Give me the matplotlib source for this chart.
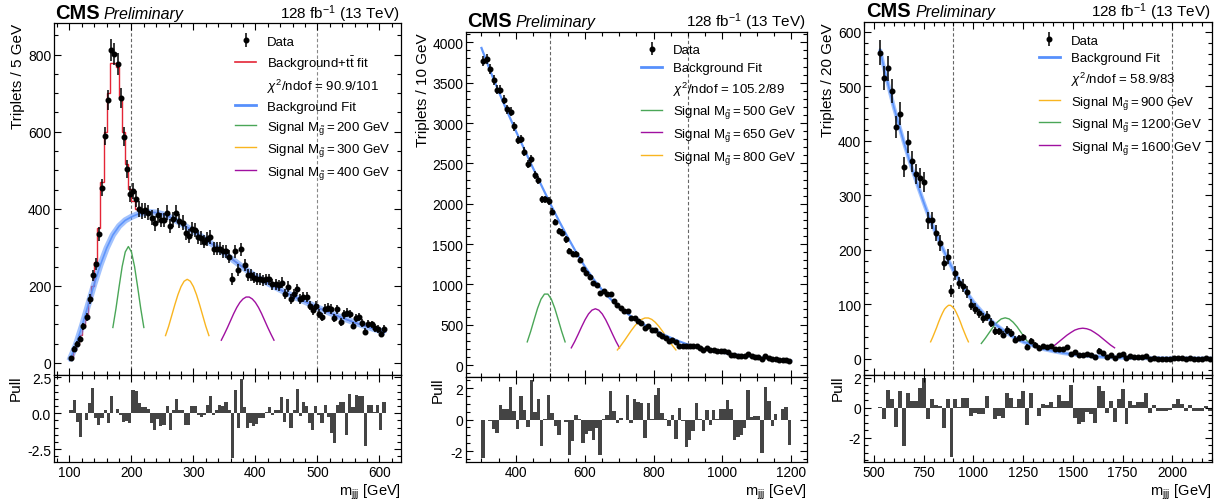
import numpy as np
import matplotlib
matplotlib.use("Agg")
import matplotlib.pyplot as plt
from matplotlib.lines import Line2D
from matplotlib.ticker import MultipleLocator, FormatStrFormatter

plt.rcParams['font.family'] = ['Liberation Sans', 'DejaVu Sans']
plt.rcParams['mathtext.fontset'] = 'custom'
plt.rcParams['mathtext.rm'] = 'Liberation Sans'
plt.rcParams['mathtext.it'] = 'Liberation Sans:italic'
plt.rcParams['mathtext.bf'] = 'Liberation Sans:bold'
plt.rcParams['axes.unicode_minus'] = False

# ---------------- data : panel 1 (5 GeV bins) ----------------
p1_centers = np.arange(102.5, 610, 5)
p1_data = [13, 37, 49, 62, 95, 119, 165, 227, 257, 334, 455, 589, 683, 812, 801, 776, 687, 587, 503, 438,
           446, 425, 399, 394, 396,
           390, 377, 362, 383, 371, 371, 390, 355, 373, 390, 368, 364, 338, 329, 348, 345, 327, 325, 315, 322,
           327, 296, 296, 296, 290, 290, 276, 218, 290, 241, 295, 254, 228, 228, 221, 218, 218, 214, 217, 217,
           204, 204, 201, 208, 179, 198, 166, 178, 192, 166, 171, 171, 149, 137, 149, 128, 119, 140, 143, 140,
           117, 139, 106, 126, 130, 127, 97, 117, 119, 104, 81, 102, 100, 91, 88, 75, 88]
p1_pull = [0.2, 0.9, -0.6, -1.65, 0.05, -0.45, 0.7, 1.75, -0.35, -0.8,
           -0.3, 0.2, -0.65, 1.2, 0.05, 0.3, -0.1, -0.6, -0.55, -0.65,
           1.6, 1.55, 0.7, 0.45, 0.45, 0.3, -0.7, -1.2, -0.4, -0.9,
           -0.8, 0.5, -1.15, 0.2, 1.0, 0.25, 0.25, -0.85, -0.85, 0.5,
           0.5, -0.1, -0.25, -0.15, 0.55, 1.2, -0.1, 0.2, 0.55, 0.5,
           0.75, 0.2, -3.1, 1.65, -1.0, 2.4, 0.4, -1.0, -0.7, -0.9,
           -0.75, -0.35, -0.3, 0.1, 0.4, -0.15, 0.2, 0.25, 1.1, -0.6,
           1.0, -1.0, 0.25, 1.7, -0.2, 0.75, 0.5, -0.65, -1.2, 0.5,
           -0.1, -0.65, 0.55, -0.25, -1.4, -2.05, 0.55, 0.75, 0.8, -1.5,
           1.35, 0.4, 1.25, 1.2, 1.2, -2.25, 0.6, 0.6, 0.1, 0.55,
           -1.15, 0.75]
p1_fit_x = [100, 110, 120, 130, 140, 150, 160, 170, 180, 190, 200, 210, 220, 230, 240, 250, 260, 280, 300,
            320, 340, 360, 380, 400, 420, 440, 460, 480, 500, 520, 540, 560, 580, 600, 610]
p1_fit_y = [6, 45, 95, 150, 205, 255, 298, 332, 355, 370, 379, 386, 389, 391, 390, 386, 380, 362, 342,
            320, 297, 272, 248, 225, 207, 190, 174, 159, 144, 130, 117, 105, 94, 84, 80]
p1_ttbar_edges = np.arange(100, 235, 5)
p1_ttbar_fit = [14, 33, 50, 72, 95, 125, 163, 200, 262, 350, 470, 600, 700, 778, 778, 768, 688, 600, 515,
                452, 420, 400, 393, 388, 389, 390]
p1_sig200_x = np.arange(170, 225, 5)
p1_sig200 = [92, 141, 197, 250, 288, 302, 288, 250, 197, 141, 92]
p1_sig300_x = np.arange(255, 330, 5)
p1_sig300 = [71, 95, 123, 151, 177, 198, 212, 217, 212, 198, 177, 151, 123, 95, 71]
p1_sig400_x = np.arange(345, 435, 5)
p1_sig400 = [59, 75, 92, 110, 128, 144, 157, 166, 171, 171, 166, 157, 144, 128, 110, 92, 75, 59]

# ---------------- data : panel 2 (10 GeV bins) ----------------
p2_centers = np.arange(305, 1200, 10)
p2_data = [3764, 3793, 3669, 3537, 3413, 3413, 3289, 3173, 3140, 2958, 2788, 2800, 2647, 2490, 2552, 2358,
           2292, 2056, 2056, 2035, 1899, 1775, 1663, 1642, 1559, 1415, 1373, 1373, 1299, 1187, 1146, 1096,
           1013, 993, 889, 918, 877, 877, 794, 740, 711, 670, 670, 587, 587, 546, 525, 455, 484, 434,
           434, 389, 360, 339, 298, 310, 290, 244, 236, 236, 236, 236, 244, 207, 194, 207, 186, 186, 174, 174,
           174, 161, 132, 124, 120, 120, 120, 141, 112, 103, 99, 79, 112, 91, 79, 79, 70, 70, 70, 58]
p2_pull = [-2.45, -0.05, -0.1, -0.6, -0.85, 0.95, 0.7, 0.65, 2.05, 0.55,
           -0.6, 1.5, 0.6, -0.5, 2.5, 0.5, 1.3, -1.65, 0.05, 1.6,
           0.45, -0.4, -0.95, 0.0, -0.15, -2.25, -1.35, 0.3, 0.05, -1.5,
           -0.9, -0.75, -1.3, -0.55, -2.25, 0.05, 0.3, 1.8, 0.55, -0.2,
           0.1, -0.05, 1.6, -0.2, 1.3, 1.1, 1.05, -1.15, 1.05, 0.05,
           1.55, 2.0, 0.4, 0.05, -0.4, 0.3, -1.25, 0.75, -0.1, -1.75,
           -1.3, -0.7, 1.05, 0.05, -0.75, 0.6, -0.35, 0.6, 0.05, 0.65,
           0.7, 1.25, 0.65, -1.3, -1.1, -1.0, -0.55, 1.9, 0.2, 0.25,
           0.25, -2.1, 2.05, 1.2, -0.4, 0.35, -0.05, 0.7, 0.8, -1.6]
p2_fit_x = [300, 325, 350, 375, 400, 425, 450, 475, 500, 525, 550, 575, 600, 625, 650, 675, 700, 725, 750,
            775, 800, 825, 850, 875, 900, 925, 950, 975, 1000, 1025, 1050, 1075, 1100, 1125, 1150, 1175, 1200]
p2_fit_y = [3930, 3650, 3390, 3140, 2900, 2670, 2440, 2220, 2000, 1790, 1590, 1400, 1225, 1070, 935, 820,
            720, 635, 560, 497, 440, 388, 340, 295, 255, 223, 195, 173, 155, 139, 125, 112, 100, 89, 78, 66, 56]
p2_sig500_x = np.arange(433, 550, 10)
p2_sig500 = [289, 419, 564, 705, 818, 881, 881, 818, 705, 564, 419, 289]
p2_sig650_x = np.arange(561, 710, 10)
p2_sig650 = [215, 294, 383, 476, 563, 635, 682, 699, 682, 635, 563, 476, 383, 294, 215]
p2_sig800_x = np.arange(695, 870, 10)
p2_sig800 = [189, 243, 302, 365, 427, 484, 532, 567, 585, 585, 567, 532, 484, 427, 365, 302, 243, 189]

# ---------------- data : panel 3 (20 GeV bins) ----------------
p3_centers = np.arange(530, 2200, 20)
p3_data = [562, 515, 533, 492, 425, 450, 352, 398, 362, 339, 332, 324, 254, 254, 231, 213, 176, 187, 125, 157,
           139, 134, 122, 99, 92, 83, 75, 79, 66, 51, 50, 44, 52, 47, 35, 38, 39, 22, 33, 25,
           20, 23, 21, 23, 17, 17, 17, 21, 9, 12, 6, 6, 9, 6, 4, 15, 10, 4, 6, 2,
           6, 9, 1, 5, 3, 3, 3, 5, 0, 1, 0, 0, 0, 0, 1, 2, 1, 0, 1, 0, 0, 0, 1, 0]
p3_pull = [0.05, -0.75, 1.2, 0.6, -1.25, 1.1, -2.55, 0.95, 0.45, 0.45,
           1.3, 1.95, -0.75, 0.55, 0.15, 0.1, -1.35, 0.6, -3.3, 0.55,
           0.05, 0.65, 0.65, -0.55, -0.35, -0.4, -0.4, 0.8, 0.0, -0.75,
           -0.55, -0.7, 0.95, 0.65, 0.05, 0.6, 1.1, -1.15, 0.95, 0.0,
           -0.55, 0.25, 0.2, 0.4, 0.05, 0.85, 0.45, 0.45, 1.5, -0.7,
           -1.1, -0.95, -0.3, -0.45, -1.0, 1.45, 1.1, -0.35, 0.45, -0.95,
           0.6, 1.25, -1.1, 0.45, 0.2, 0.35, 0.4, 1.0, -0.35, 0.15,
           -0.2, -0.2, -0.2, -0.15, 0.25, 0.6, 0.25, -0.2, 0.2, -0.2,
           -0.2, -0.2, 0.1, -0.25]
p3_fit_x = [530, 550, 575, 600, 625, 650, 675, 700, 725, 750, 775, 800, 825, 850, 875, 900, 925, 950, 975,
            1000, 1050, 1100, 1150, 1200, 1250, 1300, 1350, 1400, 1450, 1500, 1600, 1700, 1800, 1900, 2000,
            2100, 2200]
p3_fit_y = [568, 535, 498, 462, 430, 398, 368, 340, 313, 287, 262, 240, 219, 199, 180, 162, 146, 131, 117,
            104, 83, 66, 52, 40, 31, 24, 18, 14, 10.5, 8, 4.5, 2.6, 1.5, 0.9, 0.5, 0.3, 0.2]
p3_sig900_x = np.arange(785, 980, 10)
p3_sig900 = [31, 39, 48, 57, 67, 76, 84, 91, 95, 98, 98, 95, 91, 84, 76, 67, 57, 48, 39, 31]
p3_sig1200_x = np.arange(1040, 1290, 20)
p3_sig1200 = [28, 37.5, 48, 58.5, 67, 73, 75, 73, 67, 58.5, 48, 37.5, 28]
p3_sig1600_x = np.arange(1390, 1720, 20)
p3_sig1600 = [20, 25, 31, 37, 43, 48, 52.5, 55, 56, 55, 52.5, 48, 43, 37, 31, 25, 20]

# ---------------- styling ----------------
BLUE = '#5790fc'
RED = '#e42536'
GREEN = '#4aa657'
YELLOW = '#f9b520'
PURPLE = '#a010a0'
PULLC = '#444444'

W, H = 1225, 502
PB = 463  # bottom of pull panels (px)
fig = plt.figure(figsize=(W / 100, H / 100), dpi=100)


def rect(l, r, t, b):
    return [l / W, 1 - b / H, (r - l) / W, (b - t) / H]


def style(ax, xmaj, xmin, ymaj, ymin):
    ax.xaxis.set_major_locator(MultipleLocator(xmaj))
    ax.xaxis.set_minor_locator(MultipleLocator(xmin))
    ax.yaxis.set_major_locator(MultipleLocator(ymaj))
    ax.yaxis.set_minor_locator(MultipleLocator(ymin))
    ax.tick_params(which='both', direction='in', top=True, right=True, labelsize=10, width=0.8)
    ax.tick_params(which='major', length=5)
    ax.tick_params(which='minor', length=2.6)
    ax.tick_params(axis='y', which='both', pad=2)
    ax.tick_params(axis='x', which='both', pad=2.5, labelsize=9.8)
    for s in ax.spines.values():
        s.set_linewidth(0.9)


def header(x_cms, x_prel, x_lumi, ybase):
    y = 1 - ybase / H
    fig.text(x_cms / W, y, 'CMS', fontsize=14.5, fontweight='bold', va='baseline', ha='left')
    fig.text(x_prel / W, y, 'Preliminary', fontsize=11.5, style='italic', va='baseline', ha='left')
    fig.text(x_lumi / W, y, '128 fb$^{-1}$ (13 TeV)', fontsize=11, va='baseline', ha='right')


def data_points(ax, x, y):
    y = np.asarray(y, float)
    return ax.errorbar(x, y, yerr=np.sqrt(y), fmt='o', color='k', ms=3.3, elinewidth=1.1,
                       capsize=0, zorder=10)


def finish(ax, pl, xlim, ylim, plim, ylabel, ylx, plx):
    ax.set_xlim(*xlim)
    ax.set_ylim(*ylim)
    pl.set_ylim(*plim)
    ax.tick_params(labelbottom=False)
    ax.set_ylabel(ylabel, fontsize=11, loc='top')
    ax.yaxis.set_label_coords(ylx, 1.0)
    pl.set_ylabel('Pull', fontsize=11, loc='top')
    pl.yaxis.set_label_coords(plx, 1.0)
    pl.set_xlabel('m$_{\\mathrm{jjj}}$ [GeV]', fontsize=10.5, loc='right')
    h = pl.get_position().height * H
    pl.xaxis.set_label_coords(1.0, -20.0 / h)


def legend(ax, handles, labels, anchor):
    ax.legend(handles, labels, loc='upper right', bbox_to_anchor=anchor, fontsize=9.5, frameon=False,
              handlelength=1.6, handletextpad=0.8, labelspacing=0.42, borderpad=0.2, borderaxespad=0.2)


chi_h = Line2D([], [], color='none')
blue_h = Line2D([], [], color=BLUE, lw=2.0)

# ================= panel 1 =================
ax1 = fig.add_axes(rect(54, 401, 24, 375.5))
pl1 = fig.add_axes(rect(54, 401, 375.5, PB), sharex=ax1)
style(ax1, 100, 20, 200, 50)
style(pl1, 100, 20, 2.5, 0.5)
pl1.yaxis.set_major_formatter(FormatStrFormatter('%.1f'))
ax1.axvline(200, ls=(0, (3, 2)), color='#666666', lw=0.8, zorder=1)
ax1.axvline(500, ls=(0, (3, 2)), color='#888888', lw=0.8, zorder=1)
ax1.stairs(p1_ttbar_fit, p1_ttbar_edges, color=RED, lw=1.0, baseline=None, zorder=3)
ax1.plot(p1_fit_x[13:], p1_fit_y[13:], color=RED, lw=1.0, zorder=3)
ax1.plot(p1_fit_x, p1_fit_y, color=BLUE, lw=4.5, alpha=0.55, solid_capstyle='butt', zorder=4)
ax1.plot(p1_fit_x, p1_fit_y, color=BLUE, lw=1.2, alpha=0.9, zorder=4)
s1, = ax1.plot(p1_sig200_x, p1_sig200, color=GREEN, lw=1.0)
s2, = ax1.plot(p1_sig300_x, p1_sig300, color=YELLOW, lw=1.0)
s3, = ax1.plot(p1_sig400_x, p1_sig400, color=PURPLE, lw=1.0)
d1 = data_points(ax1, p1_centers, p1_data)
pl1.bar(p1_centers, p1_pull, width=5, color=PULLC, lw=0)
legend(ax1, [d1, Line2D([], [], color=RED, lw=1.2), chi_h, blue_h, s1, s2, s3],
       ['Data', 'Background+$\\mathrm{t\\bar{t}}$ fit', '$\\chi^{2}$/ndof = 90.9/101', 'Background Fit',
        'Signal $\\mathrm{M}_{\\tilde{\\mathrm{g}}} = 200$ GeV', 'Signal $\\mathrm{M}_{\\tilde{\\mathrm{g}}} = 300$ GeV',
        'Signal $\\mathrm{M}_{\\tilde{\\mathrm{g}}} = 400$ GeV'], (0.985, 0.98))
finish(ax1, pl1, (75, 635), (-30, 882), (-3.4, 2.7), 'Triplets / 5 GeV', -0.084, -0.089)
header(55, 104, 400, 19)

# ================= panel 2 =================
ax2 = fig.add_axes(rect(466, 807, 33, 377.5))
pl2 = fig.add_axes(rect(466, 807, 377.5, PB), sharex=ax2)
style(ax2, 200, 50, 500, 100)
style(pl2, 200, 50, 2, 0.5)
ax2.axvline(500, ls=(0, (3, 2)), color='#666666', lw=0.8, zorder=1)
ax2.axvline(900, ls=(0, (3, 2)), color='#666666', lw=0.8, zorder=1)
ax2.plot(p2_fit_x, p2_fit_y, color=BLUE, lw=1.6, alpha=0.95, zorder=4)
t1, = ax2.plot(p2_sig500_x, p2_sig500, color=GREEN, lw=1.0)
t2, = ax2.plot(p2_sig650_x, p2_sig650, color=PURPLE, lw=1.0)
t3, = ax2.plot(p2_sig800_x, p2_sig800, color=YELLOW, lw=1.0)
d2 = data_points(ax2, p2_centers, p2_data)
pl2.bar(p2_centers, p2_pull, width=10, color=PULLC, lw=0)
legend(ax2, [d2, blue_h, chi_h, t1, t2, t3],
       ['Data', 'Background Fit', '$\\chi^{2}$/ndof = 105.2/89',
        'Signal $\\mathrm{M}_{\\tilde{\\mathrm{g}}} = 500$ GeV', 'Signal $\\mathrm{M}_{\\tilde{\\mathrm{g}}} = 650$ GeV',
        'Signal $\\mathrm{M}_{\\tilde{\\mathrm{g}}} = 800$ GeV'], (0.985, 0.98))
finish(ax2, pl2, (255, 1246), (-140, 4128), (-2.7, 2.75), 'Triplets / 10 GeV', -0.106, -0.062)
header(467, 515, 806, 27)

# ================= panel 3 =================
ax3 = fig.add_axes(rect(864, 1212, 23, 375.5))
pl3 = fig.add_axes(rect(864, 1212, 375.5, PB), sharex=ax3)
style(ax3, 250, 50, 100, 20)
style(pl3, 250, 50, 2, 0.5)
ax3.axvline(900, ls=(0, (3, 2)), color='#666666', lw=0.8, zorder=1)
ax3.axvline(2000, ls=(0, (3, 2)), color='#666666', lw=0.8, zorder=1)
ax3.plot(p3_fit_x, p3_fit_y, color=BLUE, lw=3, alpha=0.55, solid_capstyle='butt', zorder=4)
ax3.plot(p3_fit_x, p3_fit_y, color=BLUE, lw=1.2, alpha=0.9, zorder=4)
u1, = ax3.plot(p3_sig900_x, p3_sig900, color=YELLOW, lw=1.0)
u2, = ax3.plot(p3_sig1200_x, p3_sig1200, color=GREEN, lw=1.0)
u3, = ax3.plot(p3_sig1600_x, p3_sig1600, color=PURPLE, lw=1.0)
d3 = data_points(ax3, p3_centers, p3_data)
pl3.bar(p3_centers, p3_pull, width=20, color=PULLC, lw=0)
legend(ax3, [d3, blue_h, chi_h, u1, u2, u3],
       ['Data', 'Background Fit', '$\\chi^{2}$/ndof = 58.9/83',
        'Signal $\\mathrm{M}_{\\tilde{\\mathrm{g}}} = 900$ GeV', 'Signal $\\mathrm{M}_{\\tilde{\\mathrm{g}}} = 1200$ GeV',
        'Signal $\\mathrm{M}_{\\tilde{\\mathrm{g}}} = 1600$ GeV'], (0.985, 0.98))
finish(ax3, pl3, (450, 2200), (-29, 618), (-3.6, 2.2), 'Triplets / 20 GeV', -0.083, -0.055)
header(866, 915, 1211, 17)

fig.savefig('out.png', dpi=100)
